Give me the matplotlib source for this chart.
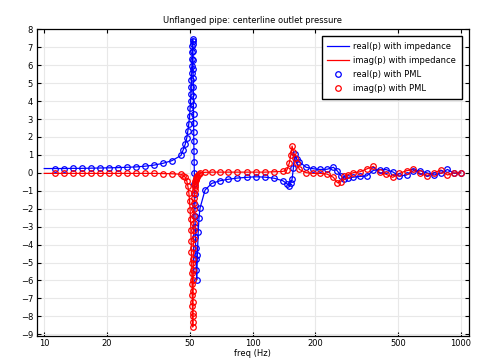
import matplotlib
matplotlib.use("Agg")
import matplotlib.pyplot as plt
from matplotlib.ticker import FixedLocator, FixedFormatter, NullLocator

# ---- data ----
freq_pml = [11.2, 12.4, 13.7, 15.1, 16.7, 18.5, 20.4, 22.5, 24.9, 27.5, 30.4, 33.6, 37.1, 41.0, 45.3,
            46.5, 47.5, 48.3, 48.9, 49.4, 49.8, 50.1, 50.35, 50.55, 50.7, 50.85, 51.0, 51.1, 51.2, 51.3, 51.4, 51.5, 51.6,
            51.65, 51.7, 51.75, 51.8, 51.85, 51.9, 51.95, 52.0, 52.05, 52.1, 52.15, 52.2, 52.3, 52.4, 52.5, 52.6,
            52.7, 52.8, 52.9, 53.0, 53.15, 53.3, 53.5, 53.7, 53.9,
            54.3, 54.8, 55.3, 55.9, 59.1, 63.6, 69.8, 76.4, 84.4, 93.7, 103.8, 114.7, 126.7, 139.5,
            146.0, 150.1, 152.4, 154.6, 156.8, 158.9, 162.8, 167.6, 180.5, 195.0, 210.7, 227.7, 244.1, 255.1,
            264.9, 274.7, 287.1, 304.4, 327.8,
            353.0, 379.6, 406.6, 437.0, 470.6, 506.1, 548.1, 590.9, 636.4, 685.2, 742.9, 799.9, 860.4, 926.6, 995.6]

real_pml = [0.24, 0.24, 0.25, 0.25, 0.26, 0.27, 0.28, 0.29, 0.31, 0.33, 0.37, 0.43, 0.53, 0.68, 0.97,
            1.30, 1.60, 1.95, 2.35, 2.75, 3.15, 3.60, 4.00, 4.40, 4.80, 5.15, 5.55, 5.95, 6.35, 6.75, 7.10, 7.35, 7.46,
            7.20, 6.80, 6.30, 5.80, 5.30, 4.80, 4.30, 3.80, 3.30, 2.80, 2.30, 1.80, 1.20, 0.60, 0.00, -0.60,
            -1.20, -1.80, -2.40, -3.00, -3.60, -4.20, -4.80, -5.40, -5.97,
            -4.60, -3.30, -2.50, -1.97, -0.96, -0.59, -0.44, -0.36, -0.29, -0.25, -0.22, -0.24, -0.30, -0.44,
            -0.60, -0.74, -0.55, -0.36, 0.25, 1.05, 0.75, 0.62, 0.31, 0.23, 0.19, 0.20, 0.31, 0.10,
            -0.15, -0.36, -0.28, -0.24, -0.20,
            -0.17, 0.14, 0.18, 0.18, 0.05, -0.18, -0.12, 0.12, 0.12, 0.00, -0.12, -0.03, 0.19, -0.03, 0.00]

imag_pml = [-0.03, -0.03, -0.03, -0.03, -0.03, -0.03, -0.03, -0.03, -0.03, -0.03, -0.03, -0.03, -0.04, -0.05, -0.08,
            -0.15, -0.25, -0.45, -0.75, -1.10, -1.55, -2.05, -2.60, -3.20, -3.80, -4.40, -5.00, -5.60, -6.20, -6.80, -7.40, -8.00, -8.60,
            -8.30, -7.80, -7.20, -6.60, -6.00, -5.40, -4.80, -4.20, -3.70, -3.20, -2.80, -2.40, -2.00, -1.70, -1.40, -1.15,
            -0.95, -0.80, -0.68, -0.58, -0.48, -0.40, -0.33, -0.27, -0.22,
            -0.16, -0.10, -0.05, 0.00, 0.03, 0.04, 0.04, 0.04, 0.04, 0.04, 0.04, 0.04, 0.06, 0.08,
            0.15, 0.56, 0.99, 1.49, 1.18, 0.80, 0.53, 0.19, 0.01, -0.03, -0.03, -0.07, -0.25, -0.55,
            -0.50, -0.20, -0.10, 0.01, 0.06,
            0.22, 0.36, 0.02, -0.08, -0.25, -0.03, 0.12, 0.19, -0.03, -0.18, 0.00, 0.16, -0.12, 0.00, 0.00]

# impedance-model curve: starts at 10 Hz, then follows the same response
freq_imp = [10.0] + freq_pml
real_imp = [0.24] + real_pml
imag_imp = [-0.03] + imag_pml

xticks = [10, 20, 50, 100, 200, 500, 1000]
xticklabels = ["10", "20", "50", "100", "200", "500", "1000"]
yticks = list(range(-9, 9))

title = "Unflanged pipe: centerline outlet pressure"
xlabel = "freq (Hz)"
labels = ["real(p) with impedance", "imag(p) with impedance",
          "real(p) with PML", "imag(p) with PML"]

# ---- figure ----
plt.rcParams["font.family"] = ["DejaVu Sans"]
fs = 6.0
fig = plt.figure(figsize=(4.84, 3.64), dpi=100)
ax = fig.add_axes([36.7 / 484, 1 - 335.7 / 364, (469 - 36.7) / 484, (335.7 - 29) / 364])

ax.plot(freq_imp, real_imp, color="#0000ff", lw=0.9, label=labels[0], zorder=3)
ax.plot(freq_imp, imag_imp, color="#ff0000", lw=0.9, label=labels[1], zorder=3)
ax.plot(freq_pml, real_pml, ls="none", marker="o", ms=4.0, mew=0.9, mfc="none",
        mec="#0000ff", label=labels[2], zorder=4)
ax.plot(freq_pml, imag_pml, ls="none", marker="o", ms=4.0, mew=0.9, mfc="none",
        mec="#ff0000", label=labels[3], zorder=5)

ax.set_xscale("log")
ax.set_xlim(9.2, 1092)
ax.set_ylim(-9.08, 8.02)
ax.xaxis.set_major_locator(FixedLocator(xticks))
ax.xaxis.set_major_formatter(FixedFormatter(xticklabels))
ax.xaxis.set_minor_locator(NullLocator())
ax.yaxis.set_major_locator(FixedLocator(yticks))
ax.yaxis.set_minor_locator(NullLocator())

ax.grid(True, color="#e8e8e8", lw=0.8, zorder=0)
ax.set_axisbelow(True)
ax.tick_params(which="both", direction="in", top=True, right=True, length=3,
               width=0.8, labelsize=fs, pad=2.6, colors="black")
for s in ax.spines.values():
    s.set_linewidth(0.9)
    s.set_color("black")

ax.set_title(title, fontsize=fs, pad=4)
ax.set_xlabel(xlabel, fontsize=fs, labelpad=0.5)

leg = ax.legend(loc="upper right", fontsize=fs, frameon=True, fancybox=False,
                numpoints=1, handlelength=2.6, handletextpad=0.5, labelspacing=0.62,
                borderpad=0.65, borderaxespad=0.9, framealpha=1)
leg.get_frame().set_edgecolor("black")
leg.get_frame().set_linewidth(1.0)

fig.savefig("out.png", dpi=100)
